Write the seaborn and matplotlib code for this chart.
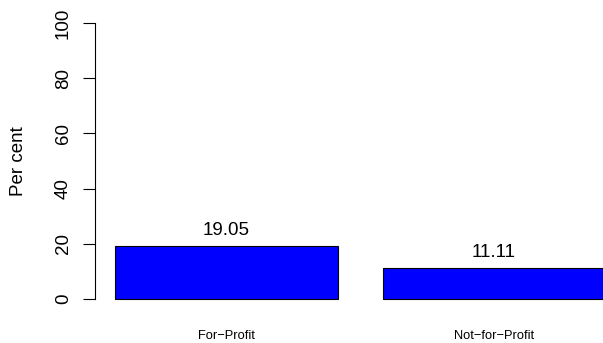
import matplotlib
matplotlib.use("Agg")
import matplotlib.pyplot as plt
import seaborn as sns
import pandas as pd

# ==================== data ====================
categories = ["For\u2212Profit", "Not\u2212for\u2212Profit"]
percent = [19.05, 11.11]
value_labels = ["19.05", "11.11"]
y_ticks = [0, 20, 40, 60, 80, 100]

sns.set_style("white")
plt.rcParams['font.family'] = ['Liberation Sans', 'DejaVu Sans']
plt.rcParams['text.color'] = 'black'
plt.rcParams['axes.labelcolor'] = 'black'
plt.rcParams['xtick.color'] = 'black'
plt.rcParams['ytick.color'] = 'black'

df = pd.DataFrame({"group": categories, "pct": percent})

fig = plt.figure(figsize=(6.03, 3.43), dpi=100)
ax = fig.add_axes([95 / 603, 33 / 343, 508 / 603, 298 / 343])

sns.barplot(data=df, x="group", y="pct", color="#0000FF", saturation=1,
            width=1 / 1.2, edgecolor="black", linewidth=0.8, ax=ax)

# value labels above bars
for i, (v, lab) in enumerate(zip(percent, value_labels)):
    ax.annotate(lab, (i, v), xytext=(0, 11.5), textcoords="offset points",
                ha="center", va="center", fontsize=13.5, color="black")

ax.set_xlim(-0.4914, 1.407)
ax.set_ylim(-4, 104)
ax.set_yticks(y_ticks)
ax.set_yticklabels([str(t) for t in y_ticks], rotation=90, va="center", fontsize=13.5)
ax.tick_params(axis="y", length=8.5, width=0.8, color="black", pad=8, left=True,
               labelcolor="black")
ax.tick_params(axis="x", length=0, pad=14.5, labelsize=9.3, labelcolor="black")
ax.set_xlabel("")
ax.set_ylabel("Per cent", fontsize=13.5, labelpad=20, color="black")

for s in ["top", "right", "bottom"]:
    ax.spines[s].set_visible(False)
ax.spines["left"].set_bounds(0, 100)
ax.spines["left"].set_color("black")
ax.spines["left"].set_linewidth(0.8)

fig.savefig("out.png", dpi=100)
